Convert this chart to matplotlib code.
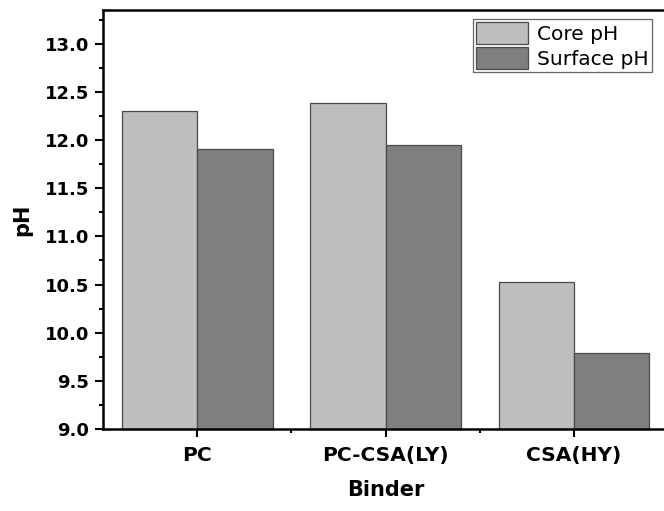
import numpy as np
import matplotlib
matplotlib.use('Agg')
import matplotlib.pyplot as plt
from matplotlib.ticker import MultipleLocator, FixedLocator

# datos
binders = ['PC', 'PC-CSA(LY)', 'CSA(HY)']
core_ph = [12.30, 12.38, 10.53]
surface_ph = [11.91, 11.95, 9.79]
series_names = ['Core pH', 'Surface pH']

plt.rcParams['font.family'] = 'DejaVu Sans'

fig = plt.figure(figsize=(6.64, 5.11), dpi=100)
# el eje derecho queda fuera del recorte, como en la imagen original
ax = fig.add_axes([103/664, 1 - 429/511, 565/664, 419/511])

x = np.arange(len(binders))
ancho = 0.4
ax.bar(x - ancho/2, core_ph, ancho, color='#bebebe', edgecolor='#4a4a4a',
       linewidth=0.9, label=series_names[0], zorder=2)
ax.bar(x + ancho/2, surface_ph, ancho, color='#7f7f7f', edgecolor='#4a4a4a',
       linewidth=0.9, label=series_names[1], zorder=2)

ax.set_xlim(-0.5, 2.5)
ax.set_ylim(9.0, 13.35)
ax.set_xticks(x)
ax.set_xticklabels(binders, fontsize=14.5, fontweight='bold')
ax.xaxis.set_minor_locator(FixedLocator([0.5, 1.5]))
ax.yaxis.set_major_locator(MultipleLocator(0.5))
ax.yaxis.set_minor_locator(MultipleLocator(0.25))
ax.yaxis.set_major_formatter(matplotlib.ticker.FormatStrFormatter('%.1f'))
for t in ax.get_yticklabels():
  t.set_fontweight('bold')
  t.set_fontsize(13)

ax.tick_params(which='major', direction='out', length=6, width=1.5, pad=4)
ax.tick_params(axis='x', which='major', pad=6)
ax.tick_params(which='minor', direction='out', length=3, width=1.5)
for s in ax.spines.values():
  s.set_linewidth(1.8)

ax.set_ylabel('pH', fontsize=15, fontweight='bold', labelpad=9)
ax.set_xlabel('Binder', fontsize=15, fontweight='bold', labelpad=11)

leg = ax.legend(loc='upper right', bbox_to_anchor=(652/664, 1 - 19/511),
                bbox_transform=fig.transFigure, fontsize=14.5,
                fancybox=False, framealpha=1, edgecolor='#666666',
                handlelength=2.6, handleheight=1.3, labelspacing=0.15,
                handletextpad=0.45, borderpad=0.15, borderaxespad=0)
leg.get_frame().set_linewidth(0.9)

plt.savefig('out.png', dpi=100)
